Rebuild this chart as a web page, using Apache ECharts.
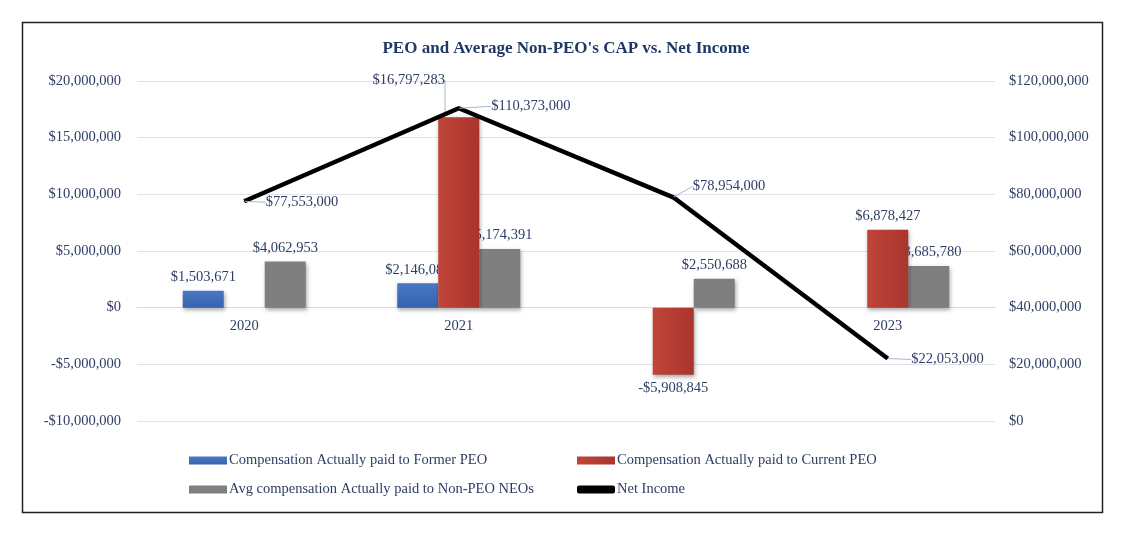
<!DOCTYPE html>
<html>
<head>
<meta charset="utf-8">
<script src="https://cdn.jsdelivr.net/npm/echarts@6/dist/echarts.min.js"></script>
<style>html,body{margin:0;padding:0;background:#fff;}#c{width:1132px;height:541px;}</style>
</head>
<body>
<div id="c"></div>
<script>
const categories = ['2020', '2021', '2022', '2023'];
const formerPEO = [1503671, 2146089, null, null];
const currentPEO = [null, 16797283, -5908845, 6878427];
const nonPEO = [4062953, 5174391, 2550688, 3685780];
const netIncome = [77553000, 110373000, 78954000, 22053000];

const FONT = '"Liberation Serif", "DejaVu Serif", serif';
const TXT = '#2e3d63';
const fmt = v => (v < 0 ? '-$' : '$') + Math.abs(v).toLocaleString('en-US');

const chart = echarts.init(document.getElementById('c'));
const barShadow = {shadowBlur: 4, shadowColor: 'rgba(0,0,0,0.35)', shadowOffsetY: 2, shadowOffsetX: 1};
const barLabel = {
  show: true, position: 'top', distance: 6, fontFamily: FONT, fontSize: 14.5, color: TXT,
  formatter: p => fmt(p.value)
};
const currentData = currentPEO.map((v, i) => {
  if (v !== null && v < 0) return {value: v, label: {position: 'bottom'}};
  if (i === 1) return {value: v, labelLine: {show: true}};
  return v;
});

chart.setOption({
  animation: false,
  textStyle: {fontFamily: FONT},
  title: {
    text: "PEO and Average Non-PEO's CAP vs. Net Income",
    left: 'center', top: 35,
    textStyle: {fontFamily: FONT, fontSize: 17, fontWeight: 'bold', color: '#1f3864'}
  },
  graphic: [{
    type: 'rect', shape: {x: 22.5, y: 22.5, width: 1080, height: 490},
    style: {fill: 'none', stroke: '#222', lineWidth: 1.5}, silent: true, z: -1
  }],
  legend: [{
    left: 184, top: 448, orient: 'vertical', itemGap: 14, itemWidth: 38, itemHeight: 8,
    data: [{name: 'Compensation Actually paid to Former PEO', icon: 'rect'},
           {name: 'Avg compensation Actually paid to Non-PEO NEOs', icon: 'rect'}],
    textStyle: {fontFamily: FONT, fontSize: 14.5, color: TXT, padding: [0, 0, 0, -3]}
  }, {
    left: 572, top: 448, orient: 'vertical', itemGap: 14, itemWidth: 38, itemHeight: 8,
    data: [{name: 'Compensation Actually paid to Current PEO', icon: 'rect'},
           {name: 'Net Income', icon: 'roundRect', itemStyle: {color: '#000'}}],
    textStyle: {fontFamily: FONT, fontSize: 14.5, color: TXT, padding: [0, 0, 0, -3]}
  }],
  grid: {left: 137, right: 137, top: 81, bottom: 120},
  xAxis: {
    type: 'category', data: categories, offset: -113.33,
    axisLine: {onZero: false, lineStyle: {color: '#d9dbe3', width: 1}},
    axisTick: {show: false},
    axisLabel: {fontFamily: FONT, fontSize: 14.5, color: TXT, margin: 11}
  },
  yAxis: [{
    type: 'value', min: -10000000, max: 20000000, interval: 5000000,
    axisLine: {show: false}, axisTick: {show: false},
    splitLine: {lineStyle: {color: '#dfe2ea', width: 1}},
    axisLabel: {fontFamily: FONT, fontSize: 14.5, color: TXT, margin: 16, formatter: v => fmt(v)}
  }, {
    type: 'value', min: 0, max: 120000000, interval: 20000000,
    axisLine: {show: false}, axisTick: {show: false}, splitLine: {show: false},
    axisLabel: {fontFamily: FONT, fontSize: 14.5, color: TXT, margin: 14, formatter: v => fmt(v)}
  }],
  series: [{
    name: 'Compensation Actually paid to Former PEO', type: 'bar', yAxisIndex: 0,
    data: formerPEO, barWidth: 41, barGap: '0%',
    itemStyle: Object.assign({color: new echarts.graphic.LinearGradient(0, 0, 0, 1, [{offset: 0, color: '#4a78c4'}, {offset: 1, color: '#3563ae'}])}, barShadow),
    label: barLabel
  }, {
    name: 'Compensation Actually paid to Current PEO', type: 'bar', yAxisIndex: 0,
    data: currentData, barWidth: 41, barGap: '0%',
    itemStyle: Object.assign({color: new echarts.graphic.LinearGradient(0, 0, 1, 0, [{offset: 0, color: '#c0443a'}, {offset: 1, color: '#a9352d'}])}, barShadow),
    label: barLabel,
    labelLayout: p => p.dataIndex === 1 ? {dx: -50, dy: -24} : {},
    labelLine: {show: false, lineStyle: {color: '#a9b6cc', width: 1}},
    z: 3
  }, {
    name: 'Avg compensation Actually paid to Non-PEO NEOs', type: 'bar', yAxisIndex: 0,
    data: nonPEO, barWidth: 41, barGap: '0%',
    itemStyle: Object.assign({color: '#7f7f7f'}, barShadow),
    label: barLabel, z: 2
  }, {
    name: 'Net Income', type: 'line', yAxisIndex: 1, data: netIncome,
    symbol: 'circle', symbolSize: 1, showSymbol: true,
    lineStyle: {color: '#000', width: 4.5}, itemStyle: {color: '#000'},
    label: {show: true, position: 'right', distance: 4, fontFamily: FONT, fontSize: 14.5, color: TXT, formatter: p => fmt(p.value)},
    labelLayout: p => [{dx: 17, dy: 1}, {dx: 28, dy: -2}, {dx: 15, dy: -11}, {dx: 19, dy: 1}][p.dataIndex],
    labelLine: {show: true, lineStyle: {color: '#a9b6cc', width: 1}},
    z: 5
  }]
});
</script>
</body>
</html>
